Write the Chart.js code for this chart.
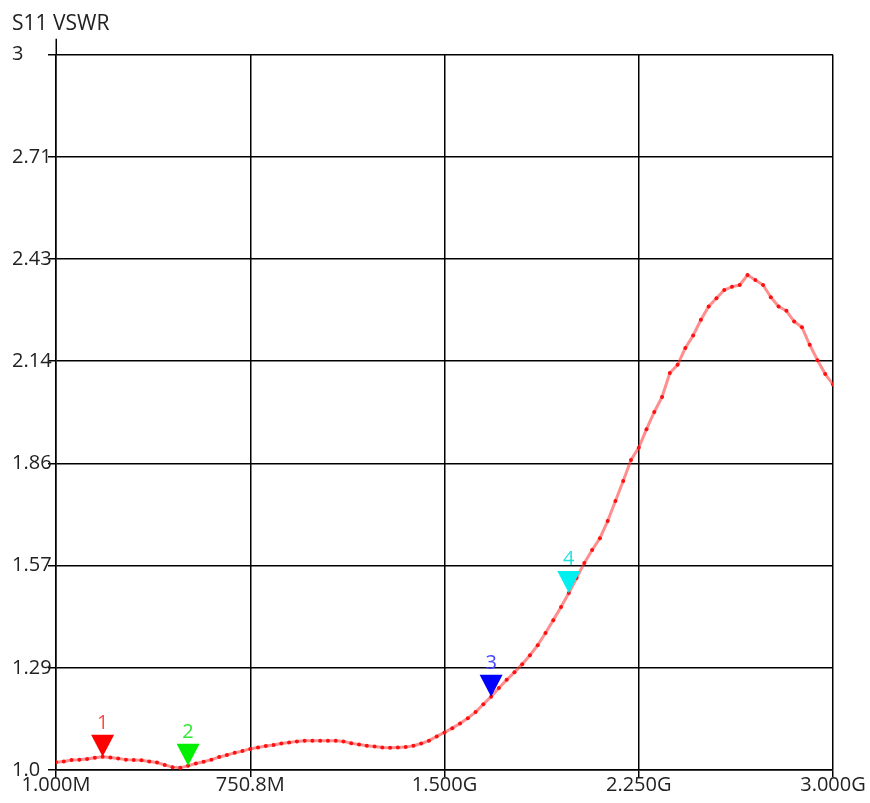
<!DOCTYPE html>
<html>
<head>
<meta charset="utf-8">
<script src="https://cdn.jsdelivr.net/npm/chart.js@4.4.1/dist/chart.umd.min.js"></script>
<style>
  html, body { margin: 0; padding: 0; background: #fff; }
  #wrap { width: 870px; height: 803px; }
</style>
</head>
<body>
<div id="wrap"><canvas id="vswr" width="870" height="803"></canvas></div>
<script>
// S11 VSWR trace, 101 sweep points
const vswr = [
  1.022, 1.024, 1.028, 1.029, 1.031, 1.034, 1.037, 1.035, 1.032, 1.029,
  1.028, 1.027, 1.024, 1.021, 1.014, 1.008, 1.006, 1.012, 1.018, 1.023,
  1.029, 1.036, 1.042, 1.048, 1.053, 1.059, 1.063, 1.067, 1.070, 1.074,
  1.077, 1.080, 1.082, 1.082, 1.082, 1.082, 1.082, 1.080, 1.075, 1.071,
  1.068, 1.066, 1.063, 1.062, 1.063, 1.064, 1.068, 1.074, 1.082, 1.094,
  1.105, 1.117, 1.130, 1.145, 1.162, 1.184, 1.205, 1.229, 1.252, 1.273,
  1.296, 1.321, 1.349, 1.383, 1.419, 1.456, 1.495, 1.537, 1.579, 1.615,
  1.648, 1.696, 1.752, 1.808, 1.867, 1.901, 1.953, 2.001, 2.043, 2.110,
  2.133, 2.180, 2.215, 2.259, 2.296, 2.319, 2.342, 2.351, 2.356, 2.384,
  2.370, 2.356, 2.322, 2.296, 2.284, 2.254, 2.238, 2.189, 2.146, 2.107,
  2.078
];

// x ticks sit on sweep point index
const xTickPos = [0, 25, 50, 75, 100];
const xTickLabels = ['1.000M', '750.8M', '1.500G', '2.250G', '3.000G'];

const yTickPos = [1, 1.2857, 1.5714, 1.8571, 2.1429, 2.4286, 2.7143, 3];
const yTickLabels = ['1.0', '1.29', '1.57', '1.86', '2.14', '2.43', '2.71', '3'];

// markers: point index, label, colour
const markerIdx = [6, 17, 56, 66];
const markerNames = ['1', '2', '3', '4'];
const markerFill = ['#ff0000', '#00f000', '#0000ff', '#00f0f0'];
const markerText = ['#ff4a4a', '#33e633', '#4646ff', '#22e0e0'];

const FONT = '"Open Sans", "Noto Sans", sans-serif';
const txt = '#222';

const points = vswr.map((v, i) => ({ x: i, y: v }));

// top part of the y axis line sticks out above the grid
const axisStub = {
  id: 'axisStub',
  afterDraw(chart) {
    const ctx = chart.ctx, a = chart.chartArea;
    ctx.save();
    ctx.strokeStyle = '#000';
    ctx.lineWidth = 1.5;
    ctx.beginPath();
    ctx.moveTo(a.left + 0.25, a.top - 16);
    ctx.lineTo(a.left + 0.25, a.top);
    ctx.stroke();
    ctx.restore();
  }
};

const markers = {
  id: 'markers',
  afterDatasetsDraw(chart) {
    const ctx = chart.ctx;
    const meta = chart.getDatasetMeta(0);
    ctx.save();
    markerIdx.forEach((idx, k) => {
      const p = meta.data[idx];
      const w = 11.5, h = 22;
      ctx.fillStyle = markerFill[k];
      ctx.beginPath();
      ctx.moveTo(p.x, p.y);
      ctx.lineTo(p.x - w, p.y - h);
      ctx.lineTo(p.x + w, p.y - h);
      ctx.closePath();
      ctx.fill();
      ctx.fillStyle = markerText[k];
      ctx.font = '20px ' + FONT;
      ctx.textAlign = 'center';
      ctx.textBaseline = 'alphabetic';
      ctx.fillText(markerNames[k], p.x, p.y - h - 6);
    });
    ctx.restore();
  }
};

new Chart(document.getElementById('vswr'), {
  type: 'line',
  data: {
    datasets: [{
      data: points,
      borderColor: 'rgba(255, 50, 50, 0.55)',
      borderWidth: 3,
      pointRadius: 2,
      pointBackgroundColor: '#ff1010',
      pointBorderWidth: 0,
      tension: 0
    }]
  },
  options: {
    responsive: false,
    animation: false,
    layout: { padding: { left: 12, right: 37, top: 0, bottom: 0 } },
    plugins: {
      legend: { display: false },
      tooltip: { enabled: false },
      title: {
        display: true,
        text: 'S11 VSWR',
        align: 'start',
        color: txt,
        font: { family: FONT, size: 21, weight: 'normal' },
        padding: { top: 11, bottom: 18.5 }
      }
    },
    scales: {
      x: {
        type: 'linear',
        min: 0,
        max: 100,
        afterBuildTicks(s) { s.ticks = xTickPos.map(v => ({ value: v })); },
        afterFit(s) { s.height = 33; },
        ticks: {
          autoSkip: false,
          maxRotation: 0,
          padding: -4,
          color: txt,
          font: { family: FONT, size: 20 },
          callback: (v) => xTickLabels[xTickPos.indexOf(v)]
        },
        grid: { color: '#000', lineWidth: 1.5, tickLength: 7 },
        border: { color: '#000', width: 1.5 }
      },
      y: {
        min: 1,
        max: 3,
        afterBuildTicks(s) { s.ticks = yTickPos.map(v => ({ value: v })); },
        afterFit(s) { s.width = 44; },
        ticks: {
          autoSkip: false,
          crossAlign: 'far',
          color: txt,
          font: { family: FONT, size: 20 },
          callback: (v) => yTickLabels[yTickPos.indexOf(v)]
        },
        grid: { color: '#000', lineWidth: 1.5, tickLength: 8 },
        border: { color: '#000', width: 1.5 }
      }
    }
  },
  plugins: [axisStub, markers]
});
</script>
</body>
</html>
